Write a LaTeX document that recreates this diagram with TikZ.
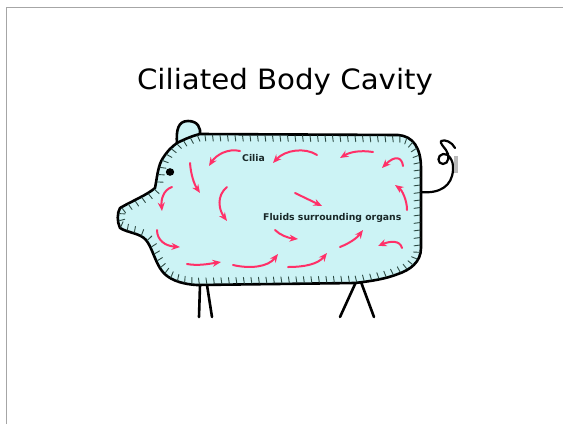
\documentclass[tikz,border=0pt]{standalone}
\usepackage{fontspec}
\setmainfont{DejaVu Sans}
\usepackage{tikz}
\usetikzlibrary{arrows.meta,decorations.markings}

\definecolor{bodyfill}{RGB}{204,243,245}
\definecolor{flowpink}{RGB}{255,48,104}
\definecolor{ciliumgray}{RGB}{45,75,68}
\definecolor{labeldark}{RGB}{25,40,40}

\begin{document}
\begin{tikzpicture}[x=1pt, y=-1pt,
        flow/.style={flowpink, line width=2pt, line cap=round, -{Stealth[length=8.5pt,width=7pt]}},
        outline/.style={black, line width=2.6pt, line join=round, line cap=round},
        cilia/.style={decoration={markings,
                mark=between positions 5pt and 1 step \tickStep pt with {\draw[ciliumgray, line width=0.9pt, line cap=round] (0,-1pt) -- (0.8pt,-\tickLen pt);}},
            postaction={decorate}}]
        \def\tickLen{7} \def\tickStep{7.5}

        \fill[white] (0,0) rectangle (563,424);
        \useasboundingbox (0,0) rectangle (563,424);
        \draw[gray!70, line width=1.6pt] (6.5,424) -- (6.5,7.5) -- (563,7.5);

        \node[font=\fontsize{28}{34}\selectfont, xscale=1.045, anchor=base, inner sep=0] (title) at (285,89.5) {Ciliated Body Cavity};

        % legs
        \draw[outline] (200,285) -- (199,317);
        \draw[outline] (207,285) -- (212,317);
        \draw[outline] (356,282) -- (340,317);
        \draw[outline] (361,282) -- (374,317);

        % tail
        \draw[outline, line width=2.2pt] (420,192) .. controls (440,194) and (452,186) .. (453,170)
            .. controls (454,160) and (448,153) .. (443,154) .. controls (437,155) and (437,164) .. (443,164)
            .. controls (449,164) and (450,155) .. (446,150) .. controls (443,146) and (440,143) .. (441,141)
            .. controls (445,139) and (452,142) .. (455,148);
        \fill[gray!55] (453.5,156) rectangle (457.5,173);

        % ear
        \draw[outline, fill=bodyfill] (177,144) .. controls (176,130) and (178,121) .. (188,121)
            .. controls (198,121) and (201,128) .. (200,135);

        % body
        \draw[outline, fill=bodyfill, cilia] (200,134) -- (398,135)
            .. controls (413,136) and (421,148) .. (421,168)
            -- (421,248)
            .. controls (421,262) and (410,270) .. (398,274)
            .. controls (385,279) and (372,281) .. (355,283)
            -- (197,285)
            .. controls (180,284) and (168,279) .. (162,271)
            .. controls (155,262) and (152,247) .. (146,240)
            .. controls (140,233) and (128,233) .. (120,228)
            .. controls (117,222) and (117,213) .. (120,208)
            .. controls (132,201) and (147,195) .. (155,188)
            .. controls (157,178) and (158,165) .. (163,158)
            .. controls (168,150) and (173,146) .. (177,143)
            .. controls (185,139) and (192,136) .. (200,134) -- cycle;

        \fill[black] (170,172) ellipse (4.2 and 3.8);

        % fluid flow
        \draw[flow] (240,151) .. controls (228,148) and (216,155) .. (209,166);
        \draw[flow] (317,155) .. controls (305,147) and (285,150) .. (273,163);
        \draw[flow] (373,152) .. controls (360,150) and (350,152) .. (340,158);
        \draw[flow] (403,166) .. controls (402,157) and (395,155) .. (382,168);
        \draw[flow] (190,163) .. controls (191,175) and (194,184) .. (200,193);
        \draw[flow] (172,187) .. controls (163,190) and (161,200) .. (162,211);
        \draw[flow] (227,187) .. controls (216,196) and (219,210) .. (227,221);
        \draw[flow] (295,193) -- (322,206);
        \draw[flow] (407,210) .. controls (407,200) and (402,190) .. (395,185);
        \draw[flow] (157,230) .. controls (157,240) and (165,246) .. (180,247);
        \draw[flow] (275,230) .. controls (280,235) and (288,238) .. (298,239);
        \draw[flow] (187,264) .. controls (198,266) and (208,264) .. (221,262);
        \draw[flow] (233,265) .. controls (250,269) and (268,267) .. (278,254);
        \draw[flow] (288,267) .. controls (305,267) and (318,264) .. (327,253);
        \draw[flow] (340,247) .. controls (350,243) and (357,238) .. (363,230);
        \draw[flow] (402,248) .. controls (400,240) and (390,241) .. (378,246);

        \node[font=\bfseries\fontsize{9.3}{11}\selectfont, text=labeldark, anchor=base west, inner sep=0] (cilia) at (242,161) {Cilia};
        \node[font=\bfseries\fontsize{9.3}{11}\selectfont, text=labeldark, anchor=base west, inner sep=0] (fluids) at (263,220) {Fluids surrounding organs};
    \end{tikzpicture}
\end{document}
